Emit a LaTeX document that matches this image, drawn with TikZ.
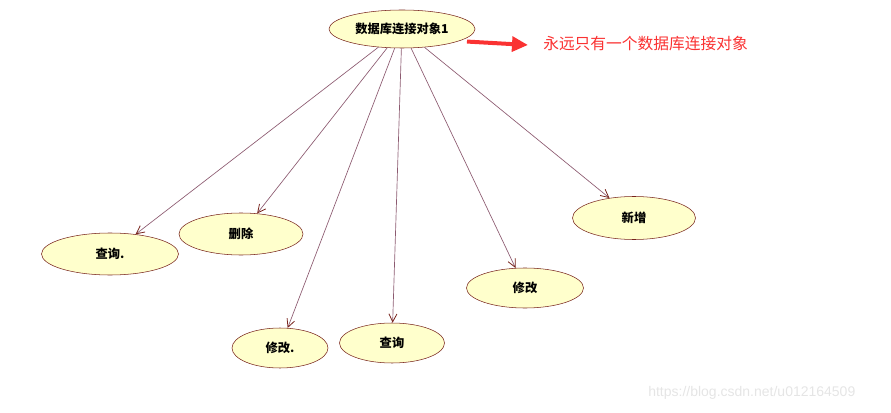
\documentclass[tikz,border=0pt]{standalone}
\usepackage{fontspec}
\newfontfamily\cjk{Noto Sans CJK SC}
\newfontfamily\marca{Liberation Sans}
\usetikzlibrary{shapes.geometric,arrows.meta}
\definecolor{relleno}{RGB}{255,255,204}
\definecolor{borde}{RGB}{120,36,28}
\definecolor{lineaenlace}{RGB}{140,90,112}
\definecolor{rojo}{RGB}{250,50,50}
\begin{document}
\begin{tikzpicture}[x=0.75pt, y=-0.75pt,
    caso/.style={ellipse, draw=borde, fill=relleno, inner sep=0pt,
        font=\cjk\bfseries\fontsize{9.2}{10}\selectfont},
    enlace/.style={lineaenlace, line width=0.5pt,
        -{Straight Barb[length=6pt, width=6pt, line width=0.6pt, color=borde]}}]
    \useasboundingbox (0,0) rectangle (891,413);

    % Objeto de conexion
    \node[caso, minimum width=109.5pt, minimum height=28.5pt] (conexion) at (402,29)
        {数据库连接对象1};

    % Nota en rojo
    \node[rojo, font=\cjk\fontsize{11.8}{13}\selectfont, anchor=west, inner sep=0pt]
        (nota) at (543,44) {永远只有一个数据库连接对象};
    \coordinate (punta) at (528,45);
    \draw[rojo, line width=3pt, shorten <=6pt, -{Triangle[length=12pt, width=11pt]}]
        (conexion.-12) -- (punta);

    % Operaciones
    \node[caso, minimum width=102.75pt, minimum height=31.5pt] (consulta1) at (110,254) {查询.};
    \node[caso, minimum width=93pt, minimum height=31.5pt] (borrar) at (241,234) {删除};
    \node[caso, minimum width=72pt, minimum height=30pt] (modif1) at (280,348) {修改.};
    \node[caso, minimum width=78.75pt, minimum height=30pt] (consulta2) at (392,343) {查询};
    \node[caso, minimum width=87.75pt, minimum height=30pt] (modif2) at (525,288) {修改};
    \node[caso, minimum width=92.25pt, minimum height=32.25pt] (nuevo) at (634,218) {新增};

    % Enlaces
    \foreach \op in {consulta1, borrar, modif1, consulta2, modif2, nuevo}
        \draw[enlace] (conexion) -- (\op);

    % Marca de agua
    \node[gray!20, font=\marca\fontsize{10.5}{12}\selectfont, anchor=west, inner sep=0pt]
        (marca) at (648,393) {https://blog.csdn.net/u012164509};
\end{tikzpicture}
\end{document}
